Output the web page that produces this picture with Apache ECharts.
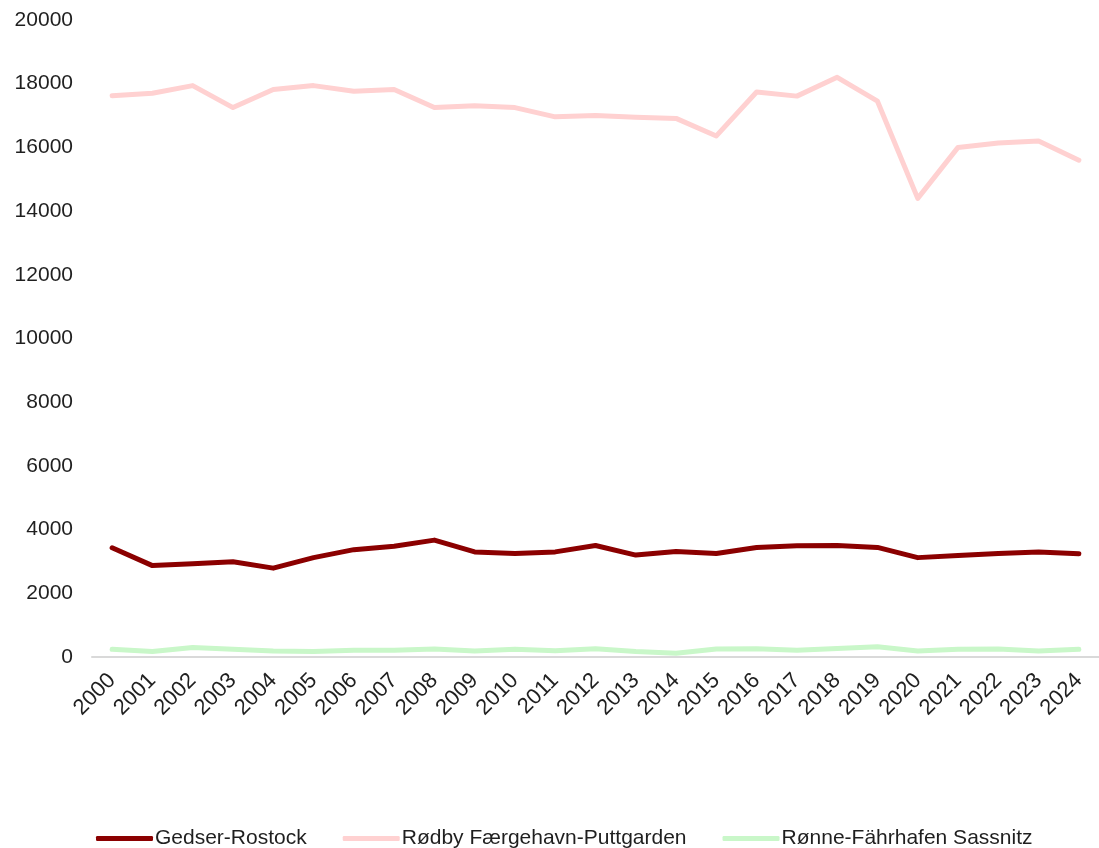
<!DOCTYPE html>
<html>
<head>
<meta charset="utf-8">
<script src="https://cdn.jsdelivr.net/npm/echarts@6/dist/echarts.min.js"></script>
<style>
  html, body { margin: 0; padding: 0; background: #fff; }
  #chart { width: 1099px; height: 848px; }
</style>
</head>
<body>
<div id="chart"></div>
<script>
const years = ['2000', '2001', '2002', '2003', '2004', '2005', '2006', '2007', '2008', '2009',
  '2010', '2011', '2012', '2013', '2014', '2015', '2016', '2017', '2018', '2019',
  '2020', '2021', '2022', '2023', '2024']

const gedserRostock = [3430, 2870, 2930, 2990, 2790, 3120, 3370, 3480, 3670, 3300,
  3250, 3300, 3500, 3200, 3310, 3250, 3440, 3490, 3500, 3440,
  3120, 3190, 3250, 3300, 3240]

const rodbyPuttgarden = [17620, 17700, 17940, 17250, 17820, 17940, 17760, 17820, 17250, 17310,
  17250, 16960, 17000, 16950, 16910, 16360, 17740, 17610, 18200, 17450,
  14400, 16000, 16140, 16200, 15600]

const ronneSassnitz = [240, 170, 300, 240, 190, 170, 210, 210, 250, 190,
  240, 200, 260, 170, 115, 250, 260, 210, 270, 320,
  190, 240, 250, 190, 240]

const seriesNames = ['Gedser-Rostock', 'Rødby Færgehavn-Puttgarden', 'Rønne-Fährhafen Sassnitz']

const font = 'Liberation Sans, Arial, sans-serif'
const textColor = '#1f1f1f'

const chart = echarts.init(document.getElementById('chart'), null, { renderer: 'canvas' })

const lineSeries = (name, color, data) => ({
  name: name,
  type: 'line',
  data: data,
  symbol: 'none',
  smooth: false,
  lineStyle: {
    color: color,
    width: 5,
    cap: 'round',
    join: 'round'
  },
  itemStyle: { color: color },
  emphasis: { disabled: true }
})

chart.setOption({
  animation: false,
  backgroundColor: '#ffffff',
  textStyle: { fontFamily: font },
  grid: {
    left: 92,
    top: 20,
    width: 1014,
    bottom: 191,
    containLabel: false
  },
  legend: {
    data: seriesNames,
    left: 91,
    top: 823,
    itemWidth: 57,
    itemHeight: 5,
    itemGap: 36,
    icon: 'roundRect',
    textStyle: {
      fontFamily: font,
      fontSize: 21,
      color: textColor,
      padding: [0, 0, 0, -3]
    }
  },
  xAxis: {
    type: 'category',
    data: years,
    boundaryGap: true,
    axisLine: {
      show: true,
      lineStyle: { color: '#d9d9d9', width: 2 }
    },
    axisTick: { show: false },
    splitLine: { show: false },
    axisLabel: {
      interval: 0,
      rotate: 45,
      margin: 20,
      fontFamily: font,
      fontSize: 22,
      color: textColor
    }
  },
  yAxis: {
    type: 'value',
    min: 0,
    max: 20000,
    interval: 2000,
    axisLine: { show: false },
    axisTick: { show: false },
    splitLine: { show: false },
    axisLabel: {
      margin: 19,
      fontFamily: font,
      fontSize: 21,
      color: textColor,
      formatter: (v) => String(v)
    }
  },
  series: [
    lineSeries(seriesNames[0], '#8b0000', gedserRostock),
    lineSeries(seriesNames[1], '#ffd1d1', rodbyPuttgarden),
    lineSeries(seriesNames[2], '#c9f7c9', ronneSassnitz)
  ]
})
</script>
</body>
</html>
